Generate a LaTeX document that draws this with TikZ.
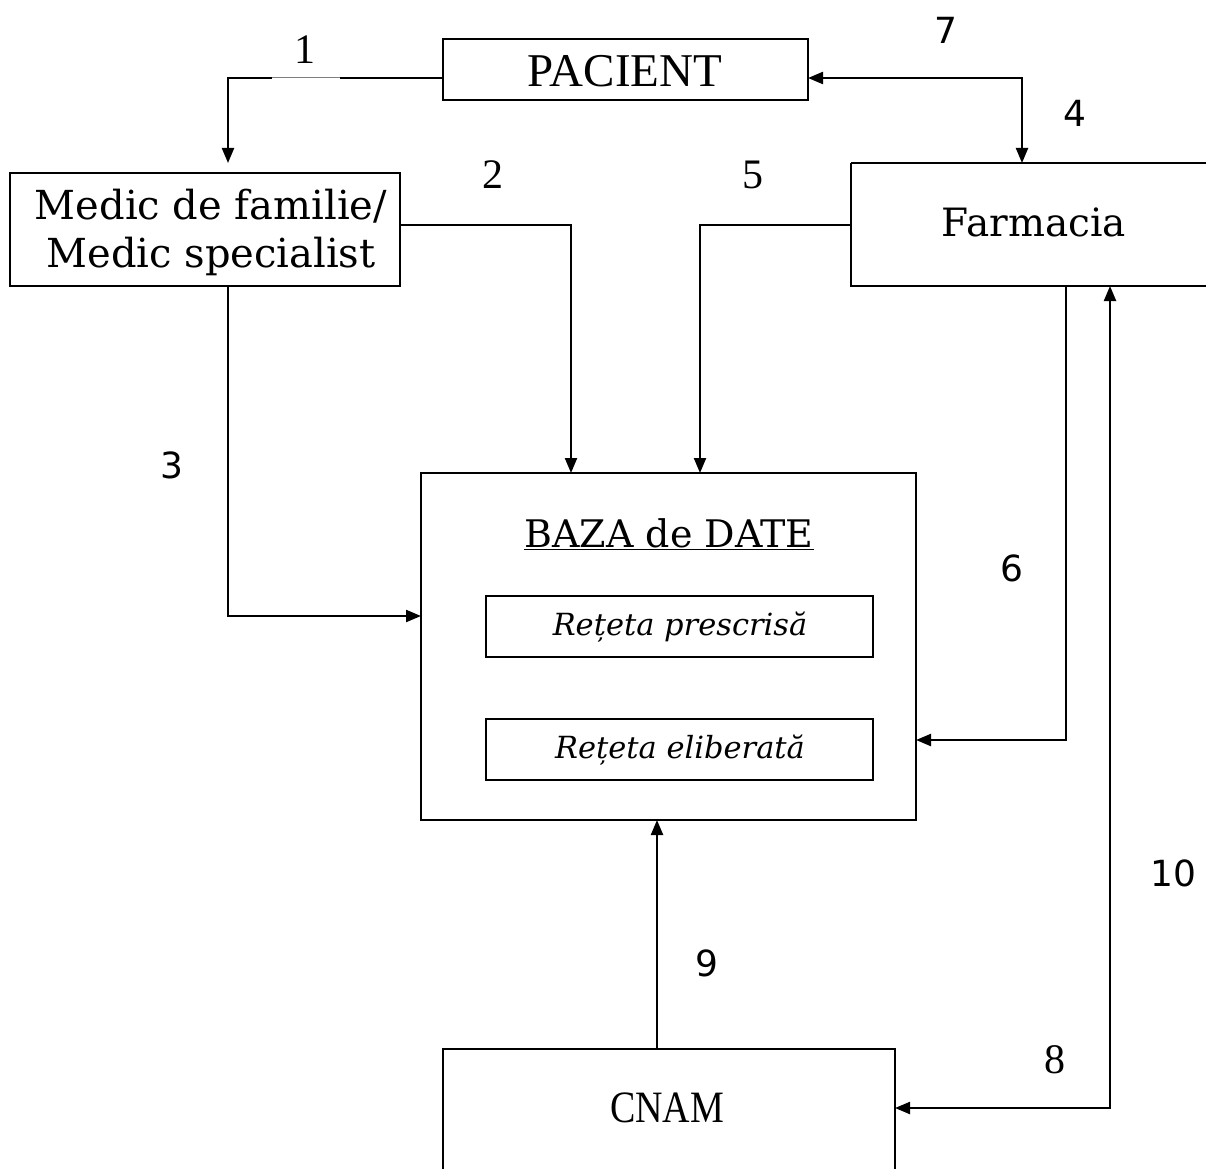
\documentclass[tikz,border=0pt]{standalone}
\usepackage{fontspec}
\setmainfont{DejaVu Serif}
\newfontfamily\romfont{Liberation Serif}
\newfontfamily\numfont{DejaVu Sans}
\usetikzlibrary{arrows.meta}
\begin{document}
\begin{tikzpicture}[x=1pt,y=-1pt,
  box/.style={draw,line width=2pt,inner sep=0pt},
  link/.style={line width=2.2pt,-{Triangle[length=15pt,width=12pt]}},
  blink/.style={line width=2.2pt,{Triangle[length=15pt,width=12pt]}-{Triangle[length=15pt,width=12pt]}},
  plain/.style={line width=2.2pt},
  snum/.style={font=\numfont\fontsize{36}{40}\selectfont},
  rnum/.style={font=\romfont\fontsize{42}{46}\selectfont}]
\useasboundingbox (0,0) rectangle (1206,1169);
% boxes
\draw[box] (443,39) rectangle (808,100);
\node (pac) at (625,71) {\romfont\fontsize{47}{50}\selectfont PACIENT};
\coordinate (pacL) at (443,78); \coordinate (pacR) at (808,78);

\draw[box] (10,173) rectangle (400,286);
\node[align=center,font=\fontsize{40}{48}\selectfont] (med) at (211,232) {Medic de familie/\\Medic specialist};

\draw[box] (851,163) -- (1206,163);
\draw[box] (851,163) -- (851,286) -- (1206,286);
\node[font=\fontsize{39}{42}\selectfont] (farm) at (1034,222) {Farmacia};

\draw[box] (421,473) rectangle (916,820);
\node[font=\fontsize{38}{42}\selectfont] (baza) at (669,534) {\underline{BAZA de DATE}};
\draw[box] (486,596) rectangle (873,657);
\node[font=\itshape\fontsize{30.5}{34}\selectfont] (presc) at (680,627) {Rețeta prescrisă};
\draw[box] (486,719) rectangle (873,780);
\node[font=\itshape\fontsize{30.5}{34}\selectfont] (elib) at (680,750) {Rețeta eliberată};

\draw[box] (443,1169) -- (443,1049) -- (895,1049) -- (895,1169);
\node (cnam) at (667,1108) {\scalebox{1}[1.18]{\romfont\fontsize{38}{42}\selectfont CNAM}};

% connectors
\coordinate (c1) at (228,78);
\coordinate (medT) at (228,163);
\draw[plain] (pacL) -- (340,78);
\draw[line width=1pt,gray] (340,78) -- (272,78);
\draw[link] (272,78) -- (c1) -- (medT);

\coordinate (c2) at (571,225);
\draw[link] (400,225) -- (c2) -- (571,473);
\coordinate (c5) at (700,225);
\draw[link] (851,225) -- (c5) -- (700,473);
\coordinate (c3) at (228,616);
\draw[link] (228,286) -- (c3) -- (421,616);
\coordinate (c7) at (1022,78);
\draw[blink] (pacR) -- (c7) -- (1022,163);
\coordinate (c6) at (1066,740);
\draw[link] (1066,286) -- (c6) -- (916,740);
\coordinate (c10) at (1110,1108);
\draw[blink] (895,1108) -- (c10) -- (1110,286);
\draw[link] (657,1049) -- (657,820);

% labels
\node[rnum] (n1) at (305,50) {1};
\node[rnum] (n2) at (493,175) {2};
\node[snum] (n3) at (172,465) {3};
\node[snum] (n4) at (1075,113) {4};
\node[rnum] (n5) at (753,175) {5};
\node[snum] (n6) at (1012,568) {6};
\node[snum] (n7) at (946,30) {7};
\node[rnum] (n8) at (1055,1060) {8};
\node[snum] (n9) at (707,963) {9};
\node[snum] (n10) at (1173,873) {10};
\end{tikzpicture}
\end{document}
